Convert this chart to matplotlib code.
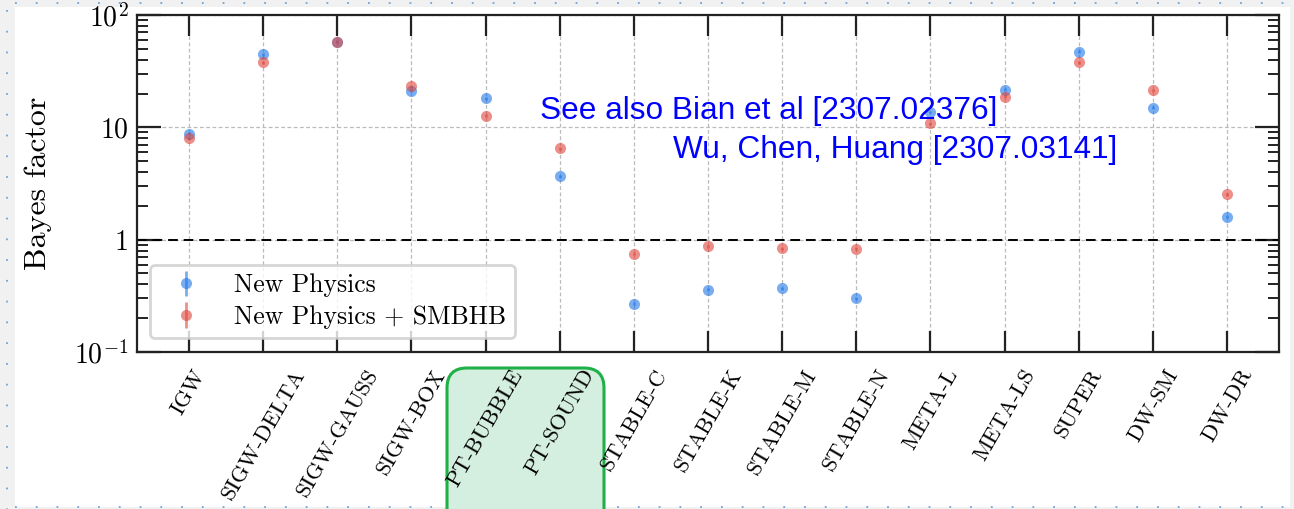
import numpy as np
import matplotlib
matplotlib.use("Agg")
import matplotlib.pyplot as plt
from matplotlib.patches import FancyBboxPatch, Rectangle
from matplotlib.lines import Line2D
from matplotlib.transforms import IdentityTransform
from matplotlib.ticker import FixedLocator, FixedFormatter, LogLocator, NullFormatter

plt.rcParams['font.family'] = ['cmr10', 'DejaVu Serif']
plt.rcParams['mathtext.fontset'] = 'cm'
plt.rcParams['axes.unicode_minus'] = False

# models and Bayes factors
models = ['IGW', 'SIGW-DELTA', 'SIGW-GAUSS', 'SIGW-BOX', 'PT-BUBBLE', 'PT-SOUND',
          'STABLE-C', 'STABLE-K', 'STABLE-M', 'STABLE-N', 'META-L', 'META-LS',
          'SUPER', 'DW-SM', 'DW-DR']
bf_np = [8.8, 44.6, 58.0, 21.1, 18.2, 3.67, 0.27, 0.36, 0.37, 0.30, 13.7, 21.7, 47.0, 14.9, 1.6]
bf_np_smbhb = [8.0, 37.8, 58.0, 23.2, 12.7, 6.5, 0.75, 0.87, 0.84, 0.83, 10.9, 18.8, 37.8, 21.3, 2.54]
rel_err = 0.03

ytick_vals = [0.1, 1, 10, 100]
ytick_labels = [r'$10^{-1}$', '1', '10', r'$10^2$']

W, H = 1294, 509
fig = plt.figure(figsize=(W / 100, H / 100), dpi=100, facecolor='#f1f1f1')

# slide background panel and dotted border
fig.add_artist(Rectangle((15 / W, 1 - 507 / H), (1290 - 15) / W, (507 - 7) / H,
                         transform=fig.transFigure, facecolor='white', edgecolor='none', zorder=-5))
dot = dict(transform=fig.transFigure, color='#6fa3dc', lw=1.3, dashes=(1, 10.5), zorder=-4)
fig.add_artist(Line2D([15 / W, 1], [1 - 3 / H, 1 - 3 / H], **dot))
fig.add_artist(Line2D([7 / W, 7 / W], [1 - 10 / H, 0], **dot))
fig.add_artist(Line2D([15 / W, 1290 / W], [1 - 507 / H, 1 - 507 / H], **dot))

# green highlight box behind PT labels (pixel coords, y up)
fig.add_artist(FancyBboxPatch((447, -40), 604 - 447, H - 368 + 40,
                              boxstyle='round,pad=0,rounding_size=20',
                              transform=IdentityTransform(), facecolor='#d4efe0',
                              edgecolor='#1fb048', lw=2.2, zorder=-3))

ax = fig.add_axes([137 / W, 1 - 352 / H, (1279 - 137) / W, (352 - 15) / H])
ax.set_facecolor('white')
x = np.arange(len(models))
bf_np = np.array(bf_np)
bf_np_smbhb = np.array(bf_np_smbhb)

ax.errorbar(x, bf_np, yerr=rel_err * bf_np, fmt='o', ms=8, color='#1f78e8', alpha=0.6,
            elinewidth=2, mew=0, label='New Physics', zorder=3)
ax.errorbar(x, bf_np_smbhb, yerr=rel_err * bf_np_smbhb, fmt='o', ms=8, color='#e0453a', alpha=0.6,
            elinewidth=2, mew=0, label='New Physics + SMBHB', zorder=3)

ax.axhline(1, color='black', ls=(0, (5, 3)), lw=1.4, zorder=2)

ax.set_yscale('log')
ax.set_ylim(0.1, 100)
ax.set_xlim(-0.7, 14.7)
ax.yaxis.set_major_locator(FixedLocator(ytick_vals))
ax.yaxis.set_major_formatter(FixedFormatter(ytick_labels))
ax.yaxis.set_minor_locator(LogLocator(base=10, subs=np.arange(2, 10)))
ax.yaxis.set_minor_formatter(NullFormatter())

ax.set_xticks(x)
ax.set_xticklabels(models, rotation=60, ha='center', va='top', fontsize=16)
ax.tick_params(axis='x', which='major', direction='in', top=True, length=15, width=1.6,
               color='#222222', pad=10)
ax.tick_params(axis='y', which='major', direction='in', right=True, length=17, width=1.6,
               color='#222222', labelsize=20, pad=6)
ax.tick_params(axis='y', which='minor', direction='in', right=True, length=8, width=1.4,
               color='#222222')
for s in ax.spines.values():
    s.set_linewidth(1.6)
    s.set_color('#222222')

ax.grid(True, which='major', ls=(0, (3, 2)), color='#bbbbbb', lw=0.9)
ax.set_axisbelow(True)
ax.set_ylabel('Bayes factor', fontsize=23, labelpad=16)

leg = ax.legend(loc='lower left', bbox_to_anchor=(0.011, 0.042), borderaxespad=0, fontsize=18.5,
                frameon=True, fancybox=True, framealpha=0.8, edgecolor='#cccccc',
                handlelength=2.1, handletextpad=0.85, borderpad=0.35, labelspacing=0.3)
leg.get_frame().set_linewidth(2)

fig.text(540 / W, 1 - 119 / H, 'See also Bian et al [2307.02376]', color='#0000ff',
         fontsize=22.8, family='Liberation Sans', ha='left', va='baseline')
fig.text(673 / W, 1 - 158 / H, 'Wu, Chen, Huang [2307.03141]', color='#0000ff',
         fontsize=22.8, family='Liberation Sans', ha='left', va='baseline')

fig.savefig('out.png', dpi=100, facecolor=fig.get_facecolor())
